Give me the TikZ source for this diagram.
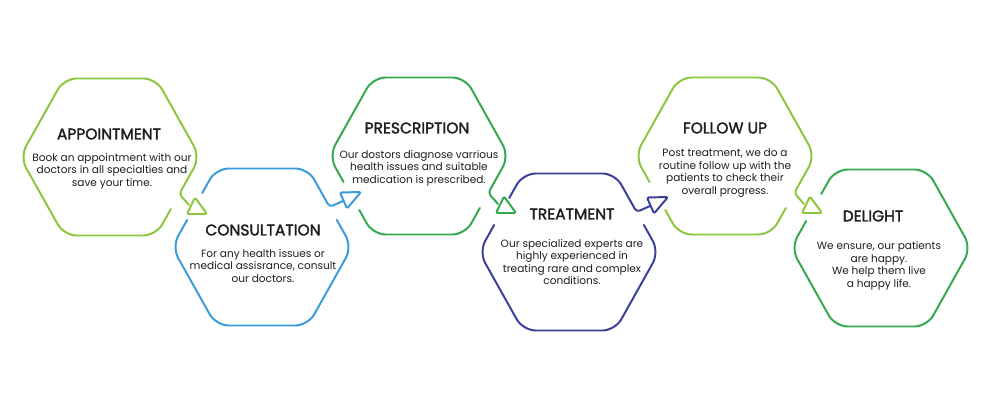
\documentclass[tikz,border=0pt]{standalone}
\usepackage{fontspec}
\setmainfont{Poppins}
\newfontfamily\headfont[FakeBold=1.8]{Poppins}
\definecolor{cLG}{HTML}{8CC63F}
\definecolor{cBL}{HTML}{3A9BDC}
\definecolor{cGR}{HTML}{33A84F}
\definecolor{cIN}{HTML}{3C3F97}
\definecolor{txt}{HTML}{1E1E1E}
\begin{document}
\begin{tikzpicture}[x=0.025cm,y=-0.025cm,
  hexline/.style={line width=1.4pt, line cap=round, line join=round, rounded corners=9pt},
  conn/.style={line width=1.4pt, line cap=round, line join=round, rounded corners=2.5pt},
  tipbox/.style={line width=1.4pt, line join=round, rounded corners=1pt},
  head/.style={font=\fontsize{11}{12}\selectfont\headfont, text=txt, inner sep=0pt},
  body/.style={font=\fontsize{7.5}{8.9}\selectfont, text=txt, align=center, inner sep=0pt}]
\useasboundingbox (0,0) rectangle (1000,400);

% Hex 1 (top, out only)
\begin{scope}[shift={(110,157)}, cLG]
\draw[hexline] (60.85,52) -- (46,78.5) -- (-46,78.5) -- (-90,0) -- (-46,-78.5) -- (46,-78.5) -- (90,0) -- (75.43,26);
\draw[conn] (75.43,26) -- (69.26,37) -- (79,48);
\draw[tipbox] (85,40.5) -- (77,57) -- (97,57) -- cycle;
\end{scope}

% Hex 2 (bottom, in and out)
\begin{scope}[shift={(262,247)}, cBL]
\draw[hexline] (-59.73,-54) -- (-46,-78.5) -- (46,-78.5) -- (61.97,-50);
\draw[conn] (61.97,-50) -- (67.58,-40) -- (81,-46);
\draw[hexline] (74.87,-27) -- (90,0) -- (46,78.5) -- (-46,78.5) -- (-90,0) -- (-74.87,-27);
\draw[tipbox] (78,-54.5) -- (99,-55) -- (85,-38.5) -- cycle;
\end{scope}

% Hex 3 (top, in and out)
\begin{scope}[shift={(419,156)}, cGR]
\draw[hexline] (60.85,52) -- (46,78.5) -- (-46,78.5) -- (-59.73,54);
\draw[hexline] (-75.43,26) -- (-90,0) -- (-46,-78.5) -- (46,-78.5) -- (90,0) -- (75.43,26);
\draw[conn] (75.43,26) -- (69.26,37) -- (79,48);
\draw[tipbox] (85,40.5) -- (77,57) -- (97,57) -- cycle;
\end{scope}

% Hex 4 (bottom, in and out)
\begin{scope}[shift={(569,252)}, cIN]
\draw[hexline] (-59.73,-54) -- (-46,-78.5) -- (46,-78.5) -- (61.97,-50);
\draw[conn] (61.97,-50) -- (67.58,-40) -- (81,-46);
\draw[hexline] (74.87,-27) -- (90,0) -- (46,78.5) -- (-46,78.5) -- (-90,0) -- (-74.87,-27);
\draw[tipbox] (78,-54.5) -- (99,-55) -- (85,-38.5) -- cycle;
\end{scope}

% Hex 5 (top, in and out)
\begin{scope}[shift={(725,156)}, cLG]
\draw[hexline] (60.85,52) -- (46,78.5) -- (-46,78.5) -- (-59.73,54);
\draw[hexline] (-75.43,26) -- (-90,0) -- (-46,-78.5) -- (46,-78.5) -- (90,0) -- (75.43,26);
\draw[conn] (75.43,26) -- (69.26,37) -- (79,48);
\draw[tipbox] (85,40.5) -- (77,57) -- (97,57) -- cycle;
\end{scope}

% Hex 6 (bottom, in only)
\begin{scope}[shift={(881,248)}, cGR]
\draw[hexline] (-59.73,-54) -- (-46,-78.5) -- (46,-78.5) -- (90,0) -- (46,78.5) -- (-46,78.5) -- (-90,0) -- (-74.87,-27);
\end{scope}

% Texts
\node[head] (h1) at (109,134) {APPOINTMENT};
\node[body] (b1) at (112,171) {Book an appointment with our\\doctors in all specialties and\\save your time.};
\node[head] (h2) at (263,230) {CONSULTATION};
\node[body] (b2) at (263,266) {For any health issues or\\medical assisrance, consult\\our doctors.};
\node[head] (h3) at (417,128) {PRESCRIPTION};
\node[body] (b3) at (419,168) {Our dostors diagnose varrious\\health issues and suitable\\medication is prescribed.};
\node[head] (h4) at (572,214) {TREATMENT};
\node[body] (b4) at (572,262) {Our specialized experts are\\highly experienced in\\treating rare and complex\\conditions.};
\node[head] (h5) at (725,128) {FOLLOW UP};
\node[body] (b5) at (725,173) {Post treatment, we do a\\routine follow up with the\\patients to check their\\overall progress.};
\node[head] (h6) at (873,216) {DELIGHT};
\node[body] (b6) at (879,266) {We ensure, our patients\\are happy.\\We help them live\\a happy life.};
\end{tikzpicture}
\end{document}
